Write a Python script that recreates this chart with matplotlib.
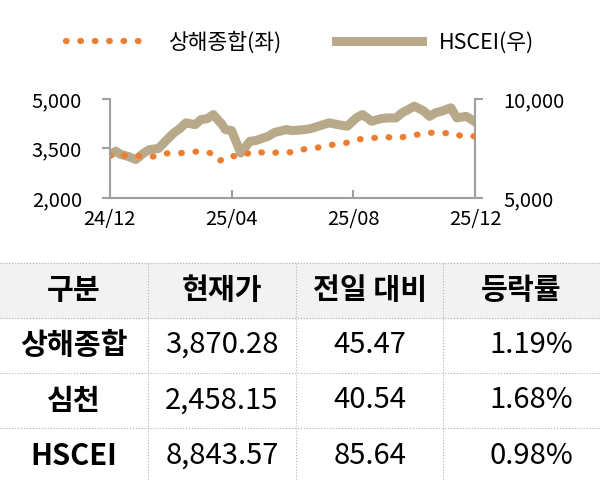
import matplotlib
matplotlib.use("Agg")
import matplotlib.pyplot as plt
import numpy as np

plt.rcParams['font.family'] = ['Noto Sans CJK KR', 'DejaVu Sans']

# time in months since 24/12
sh_t = [0.0, 0.7, 1.4, 1.8, 2.2, 2.6, 3.0, 3.4, 3.6, 3.9, 4.2, 4.8, 5.2, 5.6, 6.0, 6.4, 6.8, 7.2, 7.7, 8.1, 8.7, 9.1, 9.4, 9.8, 10.2, 10.5, 10.9, 11.2, 11.6, 12.0]
sh_v = [3300, 3280, 3250, 3350, 3350, 3380, 3420, 3340, 3120, 3280, 3260, 3420, 3330, 3400, 3380, 3480, 3520, 3600, 3650, 3770, 3820, 3850, 3800, 3880, 3930, 3980, 3950, 3980, 3860, 3870]
hs_t = [0.0, 0.2, 0.35, 0.6, 0.85, 1.1, 1.3, 1.6, 1.85, 2.1, 2.3, 2.5, 2.8, 3.0, 3.2, 3.4, 3.6, 3.65, 3.8, 4.0, 4.3, 4.6, 4.8, 5.2, 5.4, 5.8, 6.0, 6.4, 6.6, 7.2, 7.5, 7.8, 8.1, 8.3, 8.6, 8.9, 9.1, 9.4, 9.6, 9.8, 10.0, 10.3, 10.5, 10.7, 10.9, 11.2, 11.4, 11.7, 12.0]
hs_v = [7190, 7360, 7200, 7100, 6940, 7250, 7440, 7500, 7900, 8280, 8500, 8790, 8700, 8960, 9000, 9210, 8850, 8790, 8450, 8400, 7270, 7860, 7900, 8110, 8300, 8450, 8400, 8450, 8500, 8790, 8700, 8620, 9050, 9210, 8870, 9000, 9040, 9040, 9300, 9460, 9630, 9400, 9120, 9300, 9380, 9550, 9040, 9120, 8844]

xticks = [0, 4, 8, 12]
xlabels = ['24/12', '25/04', '25/08', '25/12']
ly = [2000, 3500, 5000]
ry = [5000, 10000]

cols = ['구분', '현재가', '전일 대비', '등락률']
names = ['상해종합', '심천', 'HSCEI']
prices = ['3,870.28', '2,458.15', '8,843.57']
chg = ['45.47', '40.54', '85.64']
pct = ['1.19%', '1.68%', '0.98%']

fig = plt.figure(figsize=(6, 4.8), dpi=100)
ax = fig.add_axes([0.183, 0.5875, 0.609, 0.2065])
ax2 = ax.twinx()
ax.set_zorder(ax2.get_zorder() + 1); ax.patch.set_visible(False)
ax.plot(sh_t, sh_v, color='#ed7d31', lw=4.5, ls=(0, (0.1, 2.2)), dash_capstyle='round', label='상해종합(좌)')
ax2.plot(hs_t, hs_v, color='#b8a98a', lw=6.5, label='HSCEI(우)')
ax.set_ylim(2000, 5000); ax2.set_ylim(5000, 10000)
ax.set_xlim(0, 12)
ax.set_yticks(ly); ax.set_yticklabels([f'{v:,}' for v in ly], fontsize=14.5)
ax2.set_yticks(ry); ax2.set_yticklabels([f'{v:,}' for v in ry], fontsize=14.5)
ax.set_xticks(xticks); ax.set_xticklabels(xlabels, fontsize=14.5)
for a in (ax, ax2):
    for s in a.spines.values():
        s.set_visible(False)
    a.tick_params(length=6, color='#a0a0a0', width=1.5, pad=14)
ax.spines['left'].set_visible(True); ax.spines['bottom'].set_visible(True)
ax2.spines['right'].set_visible(True)
for s in ('left', 'bottom'):
    ax.spines[s].set_color('#a0a0a0'); ax.spines[s].set_linewidth(1.5)
ax2.spines['right'].set_color('#a0a0a0'); ax2.spines['right'].set_linewidth(1.5)
ax.tick_params(axis='x', direction='in', pad=8)

h1, l1 = ax.get_legend_handles_labels(); h2, l2 = ax2.get_legend_handles_labels()
fig.legend(h1 + h2, l1 + l2, loc='center', bbox_to_anchor=(0.5, 0.912), ncol=2, frameon=False,
           fontsize=15.5, handlelength=4, columnspacing=2.5)

# table
tb = fig.add_axes([0, 0, 1, 1]); tb.set_xlim(0, 600); tb.set_ylim(480, 0); tb.axis('off')
tb.add_patch(plt.Rectangle((0, 263), 600, 55, color='#f2f2f2', zorder=0))
for y in (263, 318, 373, 428):
    tb.plot([0, 600], [y, y], color='#b0b0b0', lw=0.8, ls=':')
for x in (148, 296, 443):
    tb.plot([x, x], [263, 480], color='#b0b0b0', lw=0.8, ls=':')
cx = [74, 222, 370, 521]
for c, t in zip(cx, cols):
    tb.text(c, 290, t, ha='center', va='center', fontsize=21, fontweight='bold')
for i in range(3):
    y = 345 + i * 55.5
    tb.text(cx[0], y, names[i], ha='center', va='center', fontsize=21, fontweight='bold')
    tb.text(cx[1], y, prices[i], ha='center', va='center', fontsize=21)
    tb.text(cx[2], y, chg[i], ha='center', va='center', fontsize=21)
    tb.text(cx[3] + 10, y, pct[i], ha='center', va='center', fontsize=21)

fig.savefig('out.png', dpi=100)
